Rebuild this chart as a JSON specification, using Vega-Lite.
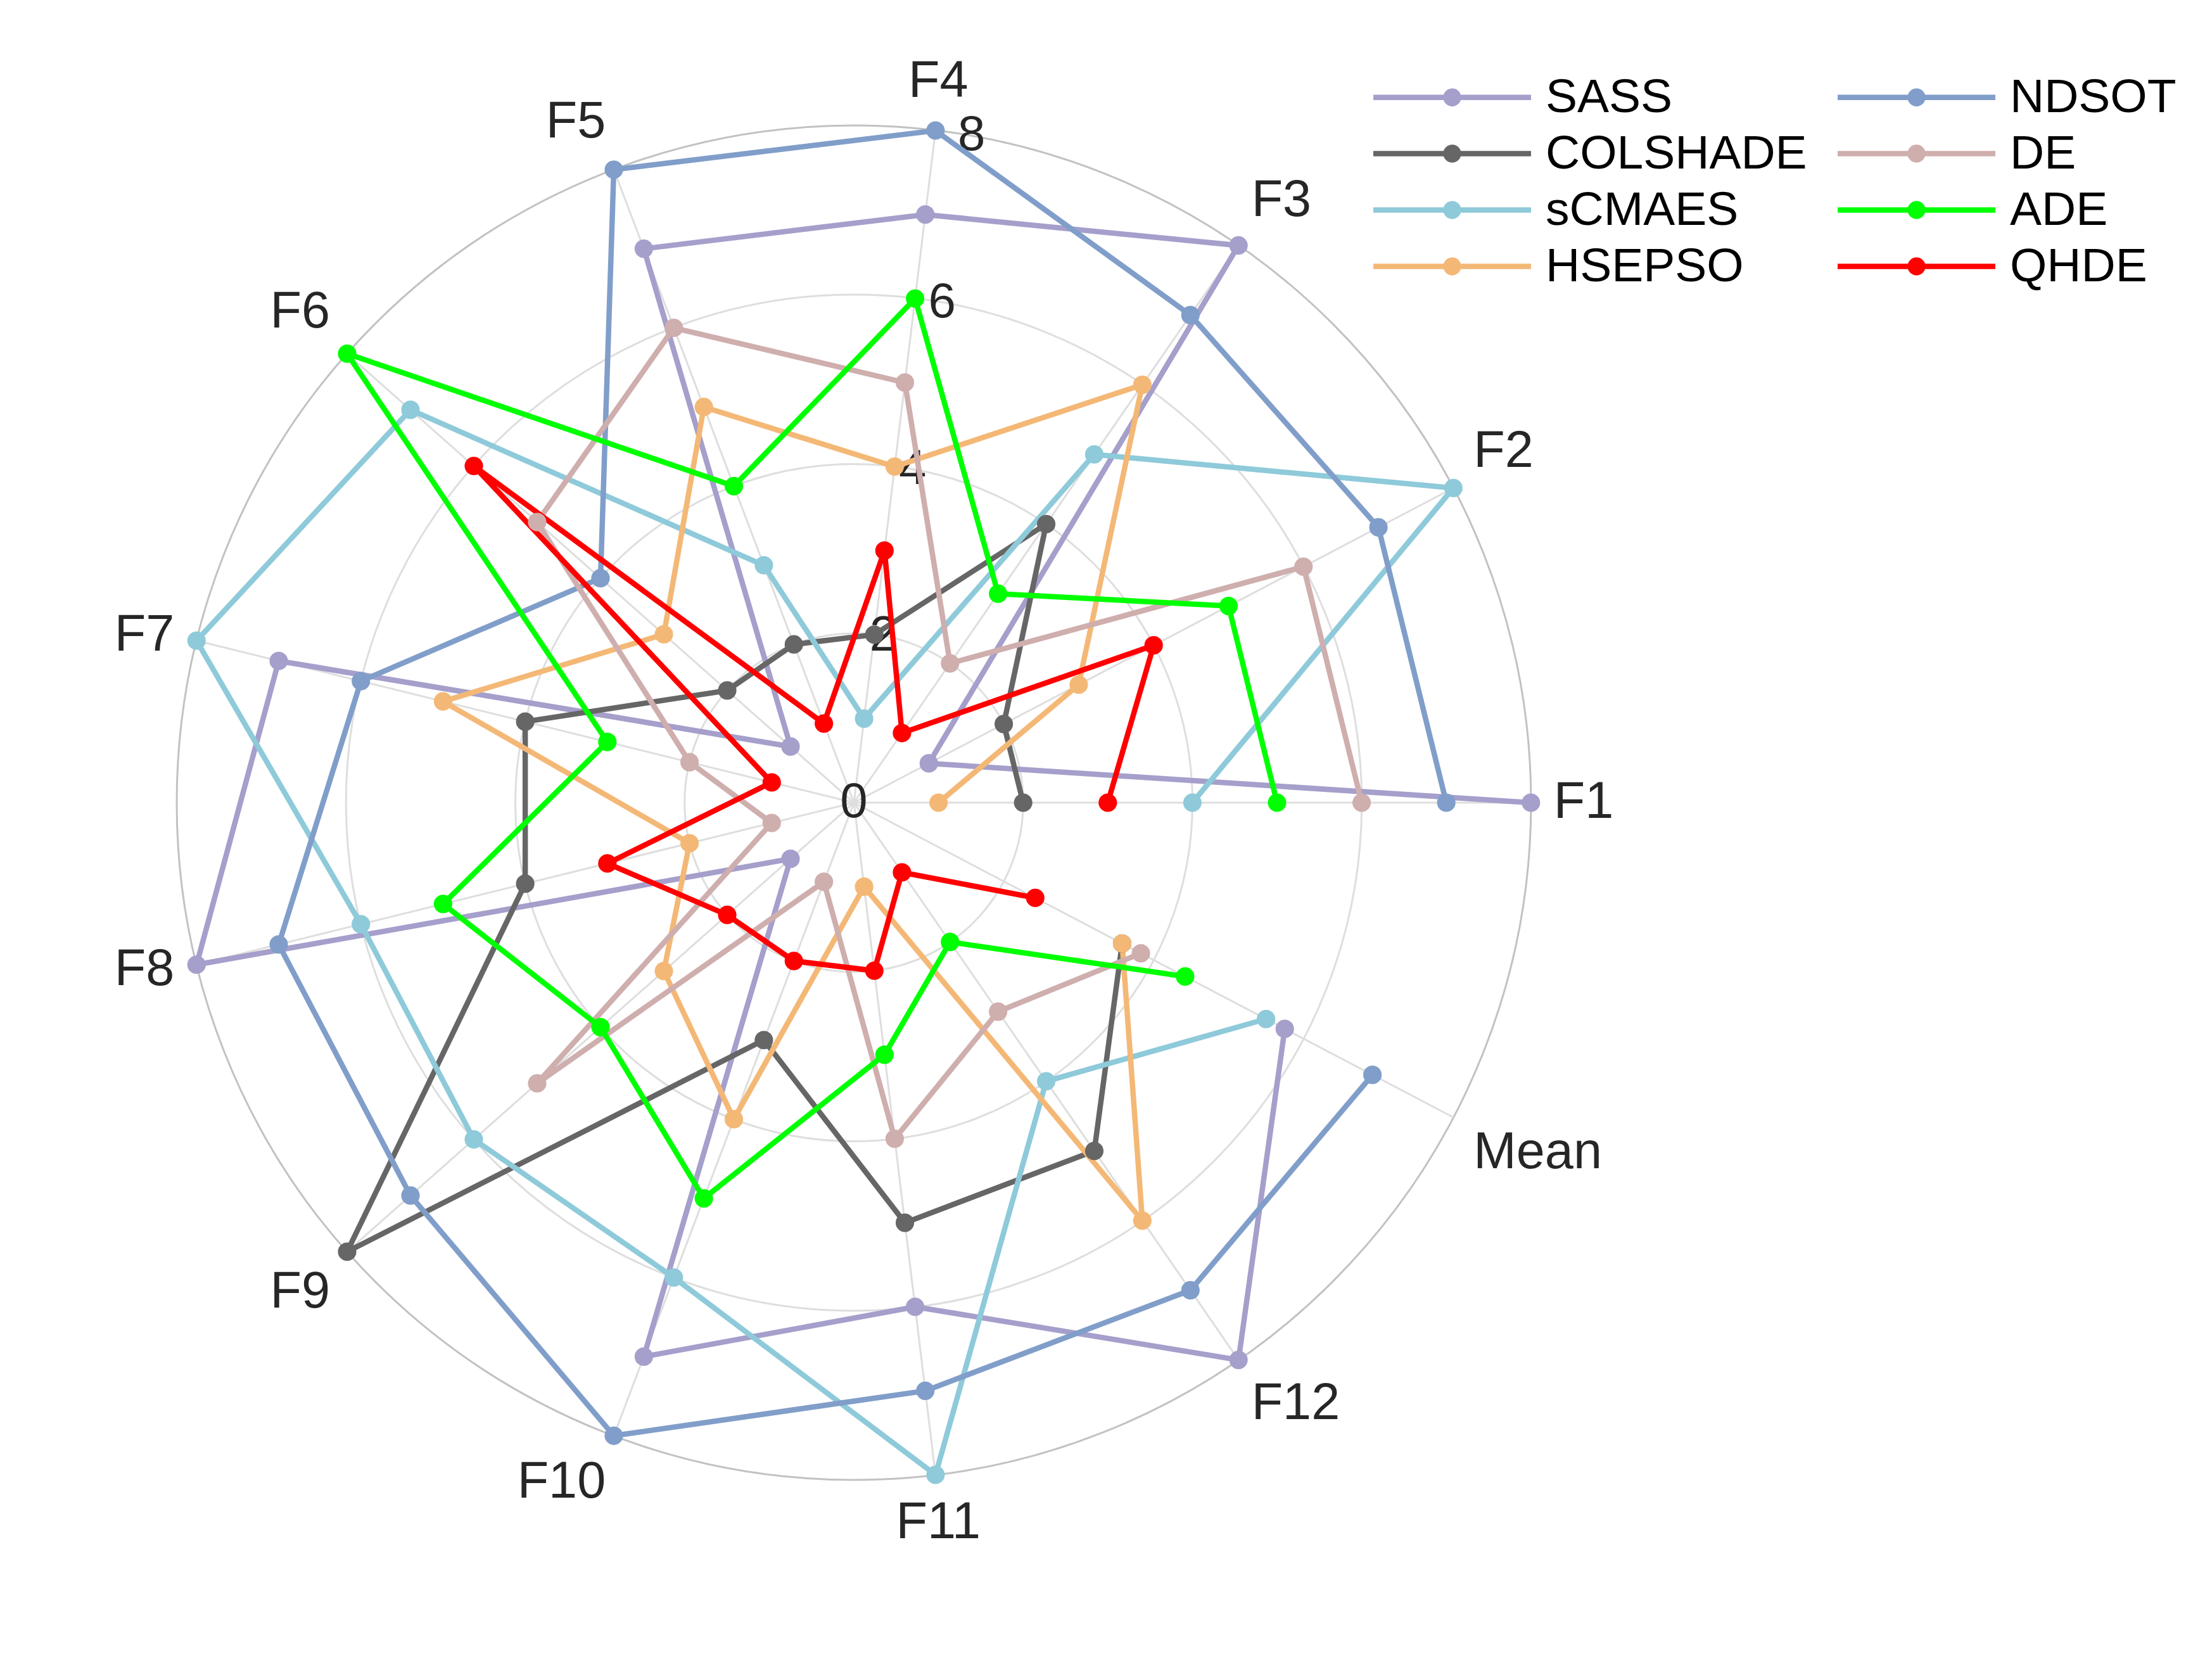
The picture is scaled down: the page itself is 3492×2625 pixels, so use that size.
{
  "$schema": "https://vega.github.io/schema/vega-lite/v6.json",
  "width": 3492,
  "height": 2625,
  "autosize": "none",
  "padding": 0,
  "background": "white",
  "config": {"view": {"stroke": null}, "font": "Liberation Sans"},
  "datasets": {
    "ranks": [
      {"algorithm": "SASS", "func": "F1", "rank": 8}, {"algorithm": "SASS", "func": "F2", "rank": 1}, {"algorithm": "SASS", "func": "F3", "rank": 8}, {"algorithm": "SASS", "func": "F4", "rank": 7}, {"algorithm": "SASS", "func": "F5", "rank": 7}, {"algorithm": "SASS", "func": "F6", "rank": 1}, {"algorithm": "SASS", "func": "F7", "rank": 7}, {"algorithm": "SASS", "func": "F8", "rank": 8}, {"algorithm": "SASS", "func": "F9", "rank": 1}, {"algorithm": "SASS", "func": "F10", "rank": 7}, {"algorithm": "SASS", "func": "F11", "rank": 6}, {"algorithm": "SASS", "func": "F12", "rank": 8}, {"algorithm": "SASS", "func": "Mean", "rank": 5.75},
      {"algorithm": "COLSHADE", "func": "F1", "rank": 2}, {"algorithm": "COLSHADE", "func": "F2", "rank": 2}, {"algorithm": "COLSHADE", "func": "F3", "rank": 4}, {"algorithm": "COLSHADE", "func": "F4", "rank": 2}, {"algorithm": "COLSHADE", "func": "F5", "rank": 2}, {"algorithm": "COLSHADE", "func": "F6", "rank": 2}, {"algorithm": "COLSHADE", "func": "F7", "rank": 4}, {"algorithm": "COLSHADE", "func": "F8", "rank": 4}, {"algorithm": "COLSHADE", "func": "F9", "rank": 8}, {"algorithm": "COLSHADE", "func": "F10", "rank": 3}, {"algorithm": "COLSHADE", "func": "F11", "rank": 5}, {"algorithm": "COLSHADE", "func": "F12", "rank": 5}, {"algorithm": "COLSHADE", "func": "Mean", "rank": 3.58},
      {"algorithm": "sCMAES", "func": "F1", "rank": 4}, {"algorithm": "sCMAES", "func": "F2", "rank": 8}, {"algorithm": "sCMAES", "func": "F3", "rank": 5}, {"algorithm": "sCMAES", "func": "F4", "rank": 1}, {"algorithm": "sCMAES", "func": "F5", "rank": 3}, {"algorithm": "sCMAES", "func": "F6", "rank": 7}, {"algorithm": "sCMAES", "func": "F7", "rank": 8}, {"algorithm": "sCMAES", "func": "F8", "rank": 6}, {"algorithm": "sCMAES", "func": "F9", "rank": 6}, {"algorithm": "sCMAES", "func": "F10", "rank": 6}, {"algorithm": "sCMAES", "func": "F11", "rank": 8}, {"algorithm": "sCMAES", "func": "F12", "rank": 4}, {"algorithm": "sCMAES", "func": "Mean", "rank": 5.5},
      {"algorithm": "HSEPSO", "func": "F1", "rank": 1}, {"algorithm": "HSEPSO", "func": "F2", "rank": 3}, {"algorithm": "HSEPSO", "func": "F3", "rank": 6}, {"algorithm": "HSEPSO", "func": "F4", "rank": 4}, {"algorithm": "HSEPSO", "func": "F5", "rank": 5}, {"algorithm": "HSEPSO", "func": "F6", "rank": 3}, {"algorithm": "HSEPSO", "func": "F7", "rank": 5}, {"algorithm": "HSEPSO", "func": "F8", "rank": 2}, {"algorithm": "HSEPSO", "func": "F9", "rank": 3}, {"algorithm": "HSEPSO", "func": "F10", "rank": 4}, {"algorithm": "HSEPSO", "func": "F11", "rank": 1}, {"algorithm": "HSEPSO", "func": "F12", "rank": 6}, {"algorithm": "HSEPSO", "func": "Mean", "rank": 3.58},
      {"algorithm": "NDSOT", "func": "F1", "rank": 7}, {"algorithm": "NDSOT", "func": "F2", "rank": 7}, {"algorithm": "NDSOT", "func": "F3", "rank": 7}, {"algorithm": "NDSOT", "func": "F4", "rank": 8}, {"algorithm": "NDSOT", "func": "F5", "rank": 8}, {"algorithm": "NDSOT", "func": "F6", "rank": 4}, {"algorithm": "NDSOT", "func": "F7", "rank": 6}, {"algorithm": "NDSOT", "func": "F8", "rank": 7}, {"algorithm": "NDSOT", "func": "F9", "rank": 7}, {"algorithm": "NDSOT", "func": "F10", "rank": 8}, {"algorithm": "NDSOT", "func": "F11", "rank": 7}, {"algorithm": "NDSOT", "func": "F12", "rank": 7}, {"algorithm": "NDSOT", "func": "Mean", "rank": 6.92},
      {"algorithm": "DE", "func": "F1", "rank": 6}, {"algorithm": "DE", "func": "F2", "rank": 6}, {"algorithm": "DE", "func": "F3", "rank": 2}, {"algorithm": "DE", "func": "F4", "rank": 5}, {"algorithm": "DE", "func": "F5", "rank": 6}, {"algorithm": "DE", "func": "F6", "rank": 5}, {"algorithm": "DE", "func": "F7", "rank": 2}, {"algorithm": "DE", "func": "F8", "rank": 1}, {"algorithm": "DE", "func": "F9", "rank": 5}, {"algorithm": "DE", "func": "F10", "rank": 1}, {"algorithm": "DE", "func": "F11", "rank": 4}, {"algorithm": "DE", "func": "F12", "rank": 3}, {"algorithm": "DE", "func": "Mean", "rank": 3.83},
      {"algorithm": "ADE", "func": "F1", "rank": 5}, {"algorithm": "ADE", "func": "F2", "rank": 5}, {"algorithm": "ADE", "func": "F3", "rank": 3}, {"algorithm": "ADE", "func": "F4", "rank": 6}, {"algorithm": "ADE", "func": "F5", "rank": 4}, {"algorithm": "ADE", "func": "F6", "rank": 8}, {"algorithm": "ADE", "func": "F7", "rank": 3}, {"algorithm": "ADE", "func": "F8", "rank": 5}, {"algorithm": "ADE", "func": "F9", "rank": 4}, {"algorithm": "ADE", "func": "F10", "rank": 5}, {"algorithm": "ADE", "func": "F11", "rank": 3}, {"algorithm": "ADE", "func": "F12", "rank": 2}, {"algorithm": "ADE", "func": "Mean", "rank": 4.42},
      {"algorithm": "QHDE", "func": "F1", "rank": 3}, {"algorithm": "QHDE", "func": "F2", "rank": 4}, {"algorithm": "QHDE", "func": "F3", "rank": 1}, {"algorithm": "QHDE", "func": "F4", "rank": 3}, {"algorithm": "QHDE", "func": "F5", "rank": 1}, {"algorithm": "QHDE", "func": "F6", "rank": 6}, {"algorithm": "QHDE", "func": "F7", "rank": 1}, {"algorithm": "QHDE", "func": "F8", "rank": 3}, {"algorithm": "QHDE", "func": "F9", "rank": 2}, {"algorithm": "QHDE", "func": "F10", "rank": 2}, {"algorithm": "QHDE", "func": "F11", "rank": 2}, {"algorithm": "QHDE", "func": "F12", "rank": 1}, {"algorithm": "QHDE", "func": "Mean", "rank": 2.42}
    ],
    "axes": [
      {"func": "F1"}, {"func": "F2"}, {"func": "F3"}, {"func": "F4"}, {"func": "F5"}, {"func": "F6"}, {"func": "F7"}, {"func": "F8"}, {"func": "F9"}, {"func": "F10"}, {"func": "F11"}, {"func": "F12"}, {"func": "Mean"}
    ],
    "rings": [{"r": 2}, {"r": 4}, {"r": 6}, {"r": 8}],
    "ticks": [{"tick": 0}, {"tick": 2}, {"tick": 4}, {"tick": 6}, {"tick": 8}]
  },
  "layer": [
    {
      "data": {"name": "rings"},
      "mark": {"type": "point", "shape": "circle", "filled": false, "strokeWidth": 3, "opacity": 1},
      "encoding": {
        "x": {"datum": 0, "type": "quantitative", "scale": {"domain": [-10.09, 16.048], "nice": false, "zero": false}, "axis": null},
        "y": {"datum": 0, "type": "quantitative", "scale": {"domain": [-10.165, 9.484], "nice": false, "zero": false}, "axis": null},
        "size": {"field": "r", "type": "quantitative", "scale": {"type": "pow", "exponent": 2, "domain": [0, 8], "range": [0, 4571044], "zero": true}, "legend": null},
        "stroke": {"condition": {"test": "datum.r == 8", "value": "#c2c2c2"}, "value": "#dedede"}
      }
    },
    {
      "data": {"name": "axes"},
      "transform": [
        {"calculate": "indexof(['F1','F2','F3','F4','F5','F6','F7','F8','F9','F10','F11','F12','Mean'], datum.func) * 2 * PI / 13", "as": "ang"},
        {"calculate": "0", "as": "cx"},
        {"calculate": "8 * cos(datum.ang)", "as": "ex"},
        {"calculate": "8 * sin(datum.ang)", "as": "ey"}
      ],
      "mark": {"type": "rule", "color": "#dedede", "strokeWidth": 3},
      "encoding": {
        "x": {"field": "cx", "type": "quantitative"},
        "y": {"field": "cx", "type": "quantitative"},
        "x2": {"field": "ex"},
        "y2": {"field": "ey"}
      }
    },
    {
      "data": {"name": "ticks"},
      "transform": [
        {"calculate": "datum.tick * cos(80 * PI / 180)", "as": "tx"},
        {"calculate": "datum.tick * sin(80 * PI / 180)", "as": "ty"}
      ],
      "mark": {"type": "text", "fontSize": 78, "color": "#262626", "align": "center", "baseline": "middle", "font": "Liberation Sans"},
      "encoding": {
        "x": {"field": "tx", "type": "quantitative"},
        "y": {"field": "ty", "type": "quantitative"},
        "text": {"field": "tick", "type": "quantitative"}
      }
    },
    {
      "data": {"name": "ranks"},
      "transform": [
        {"calculate": "indexof(['F1','F2','F3','F4','F5','F6','F7','F8','F9','F10','F11','F12','Mean'], datum.func)", "as": "idx"},
        {"calculate": "datum.rank * cos(datum.idx * 2 * PI / 13)", "as": "px"},
        {"calculate": "datum.rank * sin(datum.idx * 2 * PI / 13)", "as": "py"}
      ],
      "mark": {"type": "line", "strokeWidth": 8.5, "point": {"filled": true, "size": 850, "opacity": 1}},
      "encoding": {
        "x": {"field": "px", "type": "quantitative"},
        "y": {"field": "py", "type": "quantitative"},
        "order": {"field": "idx", "type": "quantitative"},
        "color": {
          "field": "algorithm",
          "type": "nominal",
          "scale": {
            "domain": ["SASS", "COLSHADE", "sCMAES", "HSEPSO", "NDSOT", "DE", "ADE", "QHDE"],
            "range": ["#a59fcb", "#666666", "#8ecada", "#f4b876", "#809ec9", "#cfaeae", "#00ff00", "#ff0000"]
          },
          "legend": {
            "title": null,
            "orient": "none",
            "legendX": 2168,
            "legendY": 116,
            "columns": 2,
            "padding": 0,
            "symbolType": "M-1.25,0L7.05,0M2.57,0A0.33,0.33,0,1,1,3.23,0A0.33,0.33,0,1,1,2.57,0Z",
            "symbolSize": 3600,
            "symbolStrokeWidth": 8.5,
            "symbolOffset": 0,
            "labelOffset": 197,
            "labelFontSize": 75,
            "labelFont": "Liberation Sans",
            "labelColor": "#000000",
            "labelLimit": 1000,
            "columnPadding": 31,
            "rowPadding": 13,
            "symbolOpacity": 1
          }
        }
      }
    },
    {
      "data": {"name": "axes"},
      "transform": [
        {"calculate": "indexof(['F1','F2','F3','F4','F5','F6','F7','F8','F9','F10','F11','F12','Mean'], datum.func) * 2 * PI / 13", "as": "ang"},
        {"calculate": "8.27 * cos(datum.ang)", "as": "lx"},
        {"calculate": "8.27 * sin(datum.ang)", "as": "ly"}
      ],
      "mark": {
        "type": "text",
        "fontSize": 81,
        "color": "#262626",
        "font": "Liberation Sans",
        "align": {"expr": "datum.lx > 1.67 ? 'left' : (datum.lx < -1.67 ? 'right' : 'center')"},
        "baseline": {"expr": "datum.ly > 2.5 ? 'bottom' : (datum.ly < -2.5 ? 'top' : 'middle')"}
      },
      "encoding": {
        "x": {"field": "lx", "type": "quantitative"},
        "y": {"field": "ly", "type": "quantitative"},
        "text": {"field": "func", "type": "nominal"}
      }
    }
  ]
}
